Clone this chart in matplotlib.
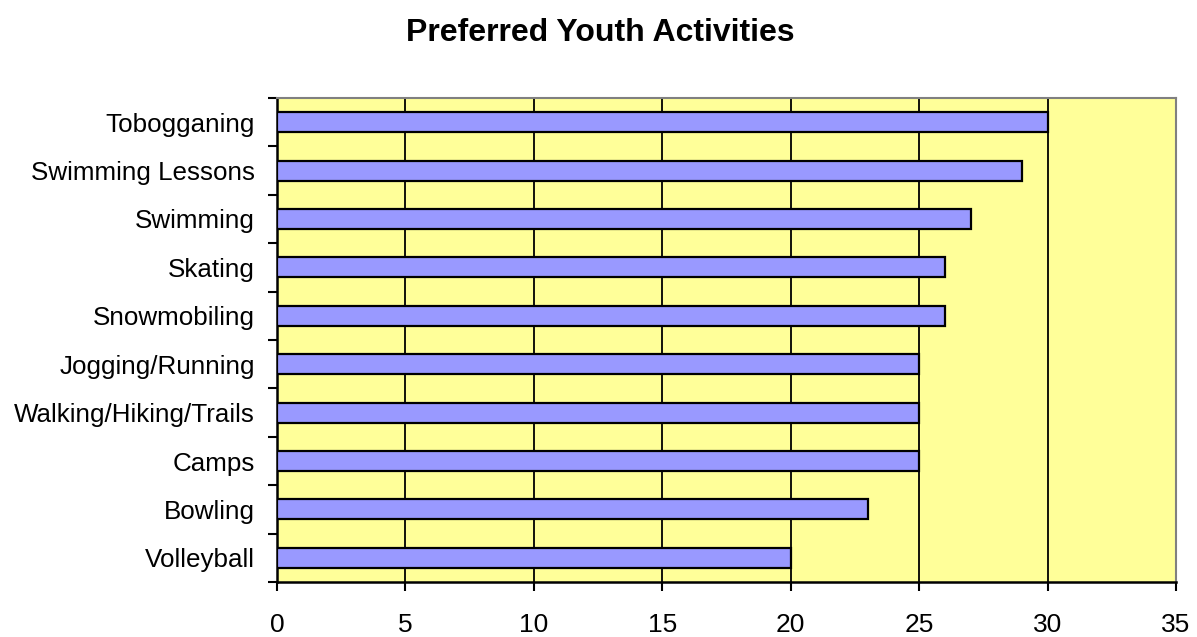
import matplotlib
matplotlib.use("Agg")
import matplotlib.pyplot as plt
import numpy as np

categories = ["Volleyball", "Bowling", "Camps", "Walking/Hiking/Trails",
              "Jogging/Running", "Snowmobiling", "Skating", "Swimming",
              "Swimming Lessons", "Tobogganing"]
values = [20, 23, 25, 25, 25, 26, 26, 27, 29, 30]
xticks = [0, 5, 10, 15, 20, 25, 30, 35]
title = "Preferred Youth Activities"

plt.rcParams['font.family'] = ['Liberation Sans', 'DejaVu Sans']

fig = plt.figure(figsize=(11.97, 6.37), dpi=100)
ax = fig.add_axes([277/1197, 1-582/637, (1176-277)/1197, (582-98)/637])
ax.set_facecolor('#FFFF99')

y = np.arange(len(categories))
ax.barh(y, values, height=0.41, color='#9999FF', edgecolor='black', linewidth=1.6, zorder=3)

ax.set_xlim(0, 35)
ax.set_ylim(-0.5, len(categories) - 0.5)
ax.set_xticks(xticks)
ax.set_xticklabels([str(t) for t in xticks], fontsize=19)
ax.set_yticks(y)
ax.set_yticklabels(categories, fontsize=18.7)
ax.set_yticks(np.arange(-0.5, len(categories)), minor=True)
ax.tick_params(axis='y', which='major', length=0, pad=16)
ax.tick_params(axis='y', which='minor', length=6.5, width=1.5, direction='out', color='black')
ax.tick_params(axis='x', which='major', length=6.5, width=1.5, direction='out', pad=16, color='black')

ax.grid(axis='x', color='black', linewidth=1.3, zorder=1)
ax.set_axisbelow(True)

for s in ['top', 'right']:
    ax.spines[s].set_color('#808080')
    ax.spines[s].set_linewidth(1.5)
for s in ['left', 'bottom']:
    ax.spines[s].set_color('black')
    ax.spines[s].set_linewidth(1.8)

fig.text(600/1197, 1-33/637, title, fontsize=23, fontweight='bold', ha='center', va='center')

fig.savefig('out.png', dpi=100)
